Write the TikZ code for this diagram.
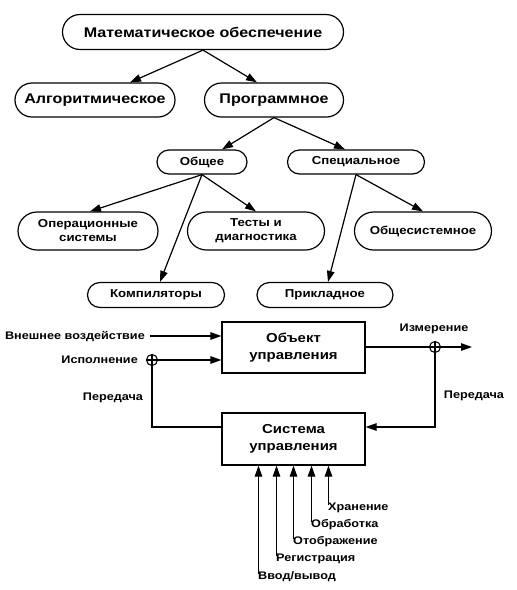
\documentclass[tikz,border=0pt]{standalone}
\usepackage{fontspec}
\setmainfont{Liberation Sans}[FakeStretch=1.15]
\usetikzlibrary{shapes.misc,arrows.meta}
\begin{document}
\begin{tikzpicture}[x=1pt,y=-1pt,
 rr/.style={rounded rectangle, draw, line width=1.2pt, font=\bfseries\fontsize{14}{16}\selectfont, inner sep=0pt},
 rs/.style={rr, font=\bfseries\fontsize{11.5}{14}\selectfont, align=center},
 bx/.style={draw, line width=1.2pt, inner sep=0pt, align=center, minimum width=143, font=\bfseries\fontsize{13}{17}\selectfont},
 lbl/.style={font=\bfseries\fontsize{11}{12}\selectfont, inner sep=0pt},
 arr/.style={-{Triangle[length=11pt,width=7.5pt]}, line width=1.2pt},
 ln/.style={line width=1.2pt},
 sum/.style={circle, draw, line width=1.1pt, minimum size=11, inner sep=0pt}]
\useasboundingbox[fill=white] (0,0) rectangle (517,590);
% tree
\node[rr, minimum width=281, minimum height=35] (mo) at (203,32) {Математическое обеспечение};
\node[rr, minimum width=160, minimum height=34] (alg) at (95,100) {Алгоритмическое};
\node[rr, minimum width=139, minimum height=34] (prog) at (274,100) {Программное};
\node[rs, minimum width=90, minimum height=24] (obsh) at (202,162) {Общее};
\node[rs, minimum width=137, minimum height=24] (spec) at (356,162) {Специальное};
\node[rs, minimum width=140, minimum height=38] (os) at (88,231) {Операционные\\системы};
\node[rs, minimum width=137, minimum height=38] (test) at (256,231) {Тесты и\\диагностика};
\node[rs, minimum width=137, minimum height=38] (obs) at (423,231) {Общесистемное};
\node[rs, minimum width=137, minimum height=25] (komp) at (156,295) {Компиляторы};
\node[rs, minimum width=136, minimum height=25] (prik) at (325,295) {Прикладное};
\draw[arr] (mo.south) -- ([xshift=35pt]alg.north);
\draw[arr] (mo.south) -- ([xshift=-17pt]prog.north);
\draw[arr] (prog.south) -- ([xshift=20pt]obsh.north);
\draw[arr] (prog.south) -- ([xshift=-11pt]spec.north);
\draw[arr] (obsh.south) -- ([xshift=2pt]os.north);
\draw[arr] (obsh.south) -- (test.north);
\draw[arr] (obsh.south) -- ([xshift=4pt]komp.north);
\draw[arr] (spec.south) -- ([xshift=3pt]prik.north);
\draw[arr] (spec.south) -- (obs.north);
% control loop
\node[bx, minimum height=51] (ob) at (293.5,347.5) {Объект\\управления};
\node[bx, minimum height=52] (sys) at (293.5,439) {Система\\управления};
\node[lbl, anchor=east] (vn) at (145,336) {Внешнее воздействие};
\node[lbl, anchor=east] (isp) at (138,360) {Исполнение};
\node[sum] (c1) at (152,360) {};
\node[sum] (c2) at (435,347) {};
\coordinate (out) at (472,347);
\node[lbl] (izm) at (434,329) {Измерение};
\node[lbl] (per1) at (113,398) {Передача};
\node[lbl] (per2) at (474,396) {Передача};
\draw[arr] ([xshift=5pt]vn.east) -- (ob.west |- vn.east);
\draw[arr] (c1.east) -- (ob.west |- c1.east);
\draw[ln] (c1.north) -- (c1.south) (c1.west) -- (c1.east);
\draw[ln] (c1.south) |- ([yshift=12pt]sys.west);
\draw[ln] (ob.east |- c2.west) -- (c2.west);
\draw[ln] (c2.north) -- (c2.south) (c2.west) -- (c2.east);
\draw[arr] (c2.east) -- (out);
\draw[arr] (c2.south) |- ([yshift=12pt]sys.east);
% inputs
\node[lbl, anchor=west] (l5) at (328,508) {Хранение};
\node[lbl, anchor=west] (l4) at (311,525) {Обработка};
\node[lbl, anchor=west] (l3) at (293,542) {Отображение};
\node[lbl, anchor=west] (l2) at (276,559) {Регистрация};
\node[lbl, anchor=west] (l1) at (258,577) {Ввод/вывод};
\foreach \l in {l1,l2,l3,l4,l5}
  \draw[arr] ([xshift=0.5pt,yshift=-2pt]\l.north west) -- ([xshift=0.5pt]\l.north west |- sys.south);
\end{tikzpicture}
\end{document}
